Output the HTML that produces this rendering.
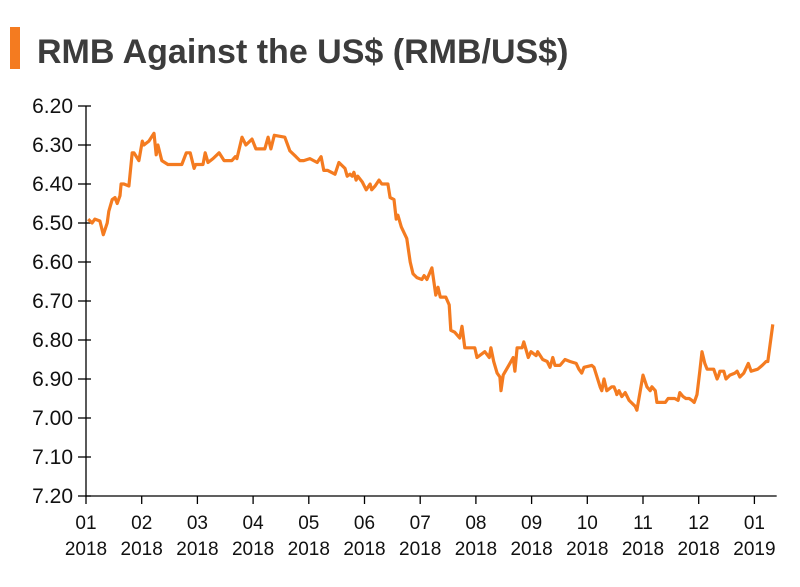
<!DOCTYPE html>
<html><head><meta charset="utf-8"><style>
body{margin:0;background:#fff;}
svg text{font-family:"Liberation Sans",Arial,sans-serif;}
</style></head><body>
<svg width="800" height="582" viewBox="0 0 800 582">
<rect x="10" y="27" width="10" height="42" fill="#f47b20"/>
<text x="37" y="63" font-size="34" font-weight="bold" fill="#3c3c3c">RMB Against the US$ (RMB/US$)</text>
<g id="axes"></g>
<path id="line" fill="none" stroke="#f47b20" stroke-width="3.2" stroke-linejoin="round"/>
</svg>
<script>
const yTicks=[6.2,6.3,6.4,6.5,6.6,6.7,6.8,6.9,7.0,7.1,7.2];
const monthLabels=["01","02","03","04","05","06","07","08","09","10","11","12","01"];
const yearLabels=["2018","2018","2018","2018","2018","2018","2018","2018","2018","2018","2018","2018","2019"];
const months=[0.04,0.11,0.16,0.25,0.31,0.38,0.41,0.47,0.52,0.56,0.61,0.63,0.68,0.77,0.83,0.86,0.95,1.01,1.04,1.13,1.22,1.26,1.29,1.36,1.47,1.72,1.80,1.87,1.94,1.97,2.10,2.14,2.19,2.28,2.39,2.48,2.62,2.68,2.71,2.80,2.87,2.98,3.05,3.21,3.27,3.32,3.38,3.57,3.66,3.77,3.84,3.91,4.02,4.15,4.22,4.27,4.34,4.47,4.54,4.65,4.69,4.74,4.78,4.81,4.85,4.88,4.96,5.03,5.10,5.13,5.19,5.26,5.31,5.39,5.42,5.46,5.53,5.57,5.60,5.66,5.76,5.82,5.87,5.94,6.03,6.07,6.12,6.21,6.28,6.32,6.36,6.46,6.52,6.55,6.62,6.71,6.75,6.80,6.89,6.98,7.02,7.16,7.24,7.27,7.32,7.38,7.43,7.45,7.49,7.61,7.67,7.70,7.74,7.83,7.86,7.94,7.99,8.08,8.11,8.20,8.28,8.33,8.38,8.42,8.51,8.60,8.69,8.80,8.85,8.90,8.94,9.08,9.12,9.23,9.26,9.30,9.35,9.44,9.48,9.52,9.53,9.57,9.62,9.68,9.75,9.86,9.89,10.00,10.07,10.13,10.16,10.22,10.25,10.40,10.45,10.57,10.63,10.66,10.72,10.77,10.83,10.88,10.92,10.97,11.02,11.06,11.11,11.15,11.24,11.27,11.33,11.36,11.38,11.45,11.49,11.56,11.65,11.69,11.74,11.81,11.89,11.94,12.06,12.14,12.21,12.24,12.33];
const rates=[6.49,6.50,6.49,6.495,6.53,6.50,6.47,6.44,6.435,6.45,6.43,6.40,6.40,6.405,6.32,6.32,6.34,6.29,6.30,6.29,6.27,6.325,6.30,6.34,6.35,6.35,6.32,6.32,6.36,6.35,6.35,6.32,6.345,6.335,6.32,6.34,6.34,6.33,6.335,6.28,6.30,6.285,6.31,6.31,6.28,6.31,6.275,6.28,6.315,6.33,6.34,6.34,6.335,6.345,6.33,6.365,6.365,6.375,6.345,6.36,6.38,6.375,6.38,6.37,6.39,6.38,6.395,6.415,6.40,6.415,6.405,6.39,6.40,6.40,6.40,6.435,6.44,6.49,6.48,6.51,6.54,6.60,6.63,6.64,6.645,6.635,6.645,6.615,6.685,6.665,6.69,6.69,6.71,6.775,6.78,6.795,6.765,6.82,6.82,6.82,6.845,6.83,6.845,6.82,6.855,6.885,6.895,6.93,6.89,6.86,6.845,6.88,6.82,6.82,6.805,6.845,6.83,6.84,6.83,6.85,6.855,6.87,6.845,6.865,6.865,6.85,6.855,6.86,6.875,6.885,6.87,6.865,6.87,6.92,6.93,6.90,6.93,6.92,6.92,6.935,6.94,6.93,6.945,6.935,6.955,6.97,6.98,6.89,6.92,6.93,6.92,6.93,6.96,6.96,6.95,6.95,6.955,6.935,6.945,6.95,6.95,6.955,6.96,6.94,6.88,6.83,6.86,6.875,6.875,6.875,6.90,6.89,6.88,6.88,6.90,6.89,6.885,6.88,6.895,6.885,6.86,6.88,6.875,6.865,6.855,6.855,6.76];
const X0=86,MW=55.7,Y0=106,YMIN=6.2,YMAX=7.2,YH=390;
const xs=m=>X0+m*MW;
const ys=v=>Y0+(v-YMIN)/(YMAX-YMIN)*YH;
const NS="http://www.w3.org/2000/svg";
const g=document.getElementById('axes');
function mk(t,a){const e=document.createElementNS(NS,t);for(const k in a)e.setAttribute(k,a[k]);g.appendChild(e);return e;}
let e=mk('line',{x1:X0,y1:Y0,x2:X0,y2:ys(YMAX),stroke:'#000','stroke-width':1.3});


e=mk('line',{x1:X0,y1:ys(YMAX),x2:xs(12.4),y2:ys(YMAX),stroke:'#000','stroke-width':1.3});


yTicks.forEach(v=>{
 const y=ys(v);
 let t=mk('line',{x1:X0-8,y1:y,x2:X0+5,y2:y,stroke:'#000','stroke-width':1.3});
 
 
 let l=mk('text',{x:73,y:y+7,'text-anchor':'end','font-size':21,fill:'#111'});
 l.textContent=v.toFixed(2);
 
 
});
monthLabels.forEach((m,i)=>{
 const x=xs(i);
 let t=mk('line',{x1:x,y1:ys(YMAX),x2:x,y2:ys(YMAX)+8,stroke:'#000','stroke-width':1.3});
 
 
 let l=mk('text',{x:x,y:529,'text-anchor':'middle','font-size':19,fill:'#111'});
 l.textContent=m;
 
 
 let l2=mk('text',{x:x,y:555,'text-anchor':'middle','font-size':19,fill:'#111'});
 l2.textContent=yearLabels[i];
 
 
});
document.getElementById('line').setAttribute('d',months.map((m,i)=>(i?'L':'M')+xs(m).toFixed(1)+','+ys(rates[i]).toFixed(1)).join(''));
</script>
</body></html>
